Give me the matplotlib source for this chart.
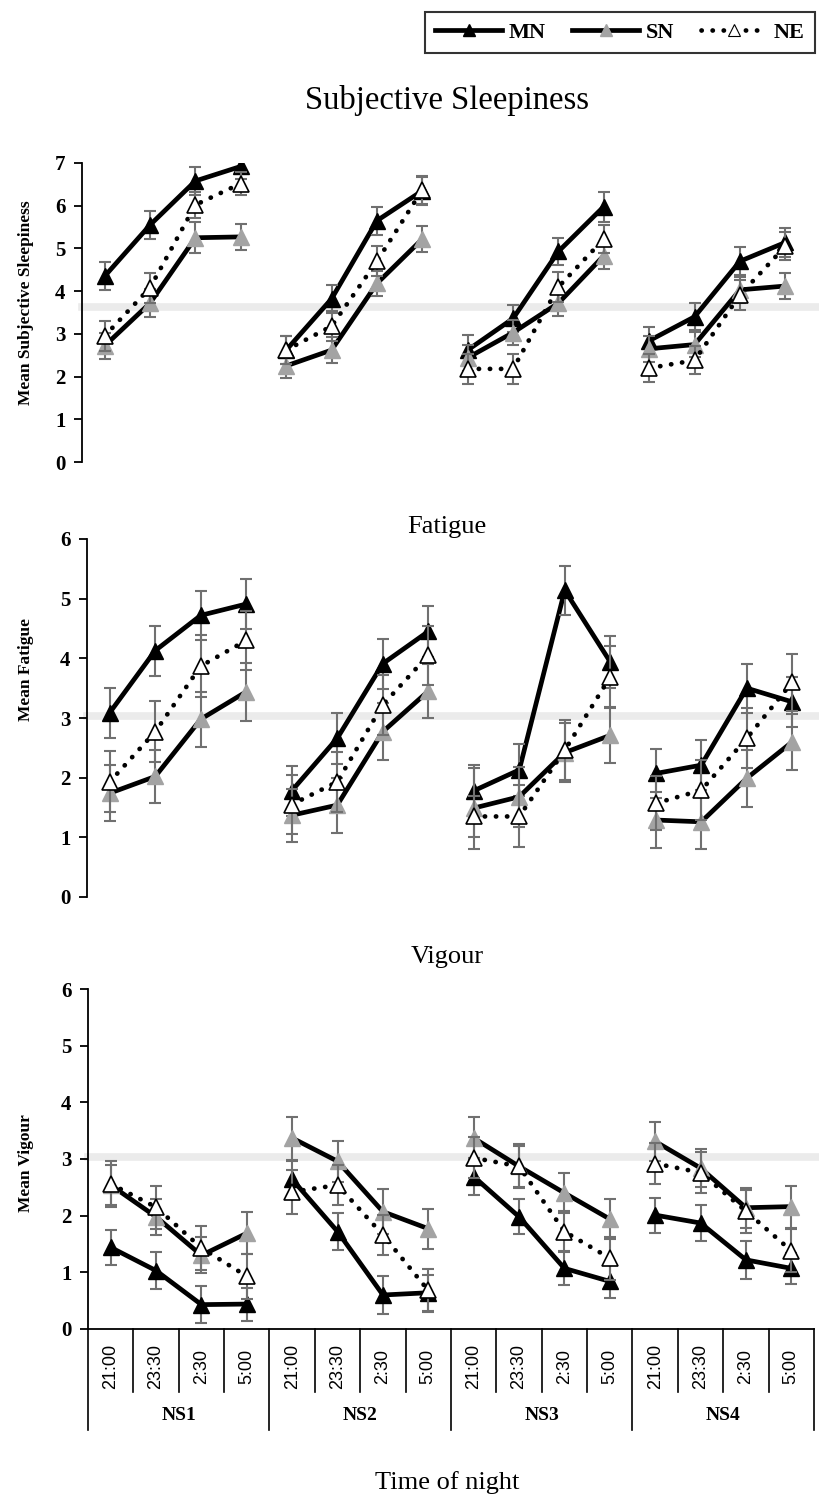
import numpy as np
import matplotlib
matplotlib.use('Agg')
import matplotlib.pyplot as plt
from matplotlib.lines import Line2D

plt.rcParams['font.family'] = ['Liberation Serif', 'DejaVu Serif']

# categories
times = ['21:00', '23:30', '2:30', '5:00']
nights = ['NS1', 'NS2', 'NS3', 'NS4']

# subjective sleepiness
sleep_mn = [4.35, 5.55, 6.58, 6.92, 2.62, 3.82, 5.65, 6.35, 2.62, 3.36, 4.93, 5.98, 2.84, 3.40, 4.70, 5.14]
sleep_mn_err = [0.33, 0.33, 0.32, 0.30, 0.33, 0.32, 0.33, 0.33, 0.35, 0.32, 0.32, 0.35, 0.33, 0.32, 0.33, 0.33]
sleep_sn = [2.72, 3.72, 5.25, 5.27, 2.25, 2.62, 4.18, 5.22, 2.44, 3.03, 3.72, 4.83, 2.65, 2.75, 4.03, 4.12]
sleep_sn_err = [0.30, 0.33, 0.36, 0.30, 0.28, 0.30, 0.30, 0.30, 0.30, 0.30, 0.30, 0.30, 0.30, 0.30, 0.30, 0.30]
sleep_ne = [2.95, 4.08, 6.02, 6.52, 2.62, 3.18, 4.70, 6.37, 2.18, 2.18, 4.10, 5.22, 2.20, 2.38, 3.91, 5.05]
sleep_ne_err = [0.35, 0.35, 0.30, 0.28, 0.33, 0.35, 0.35, 0.33, 0.35, 0.35, 0.35, 0.32, 0.33, 0.33, 0.35, 0.33]

# fatigue
fat_mn = [3.09, 4.13, 4.72, 4.91, 1.78, 2.66, 3.91, 4.45, 1.78, 2.13, 5.14, 3.94, 2.07, 2.21, 3.50, 3.27]
fat_mn_err = [0.42, 0.42, 0.41, 0.42, 0.42, 0.43, 0.42, 0.42, 0.44, 0.43, 0.41, 0.44, 0.41, 0.42, 0.41, 0.42]
fat_sn = [1.74, 2.02, 2.98, 3.44, 1.37, 1.54, 2.77, 3.45, 1.49, 1.68, 2.42, 2.71, 1.29, 1.26, 1.99, 2.60]
fat_sn_err = [0.47, 0.45, 0.46, 0.49, 0.44, 0.46, 0.48, 0.45, 0.68, 0.50, 0.50, 0.47, 0.47, 0.46, 0.48, 0.47]
fat_ne = [1.93, 2.77, 3.87, 4.30, 1.55, 1.93, 3.22, 4.05, 1.35, 1.35, 2.46, 3.69, 1.57, 1.79, 2.66, 3.60]
fat_ne_err = [0.51, 0.51, 0.52, 0.50, 0.50, 0.50, 0.50, 0.50, 0.35, 0.52, 0.50, 0.52, 0.45, 0.50, 0.50, 0.48]

# vigour
vig_mn = [1.44, 1.03, 0.43, 0.44, 2.64, 1.72, 0.60, 0.64, 2.69, 1.98, 1.07, 0.84, 2.01, 1.87, 1.22, 1.07]
vig_mn_err = [0.31, 0.33, 0.33, 0.29, 0.32, 0.32, 0.33, 0.32, 0.32, 0.31, 0.30, 0.30, 0.31, 0.31, 0.33, 0.28]
vig_sn = [2.54, 1.98, 1.30, 1.69, 3.37, 2.96, 2.07, 1.77, 3.37, 2.87, 2.40, 1.94, 3.31, 2.84, 2.14, 2.16]
vig_sn_err = [0.36, 0.32, 0.32, 0.37, 0.38, 0.36, 0.40, 0.35, 0.38, 0.39, 0.36, 0.36, 0.34, 0.34, 0.35, 0.37]
vig_ne = [2.56, 2.15, 1.43, 0.93, 2.42, 2.54, 1.66, 0.68, 3.02, 2.87, 1.72, 1.25, 2.92, 2.76, 2.08, 1.38]
vig_ne_err = [0.40, 0.38, 0.39, 0.40, 0.39, 0.36, 0.36, 0.38, 0.36, 0.36, 0.36, 0.38, 0.36, 0.36, 0.38, 0.38]

# grey reference band per panel
baselines = [3.63, 3.03, 3.03]

titles = ['Subjective Sleepiness', 'Fatigue', 'Vigour']
ylabels = ['Mean Subjective Sleepiness', 'Mean Fatigue', 'Mean Vigour']

W, H = 820, 1499
fig = plt.figure(figsize=(W / 100, H / 100), dpi=100)


def box(x0, y_top, y_bot, width):
    # pixel box -> figure fraction
    return [x0 / W, 1 - y_bot / H, width / W, (y_bot - y_top) / H]


ax1 = fig.add_axes(box(82, 163, 462, 726))
ax2 = fig.add_axes(box(87, 539, 897, 728))
ax3 = fig.add_axes(box(88, 989, 1329, 726))
axes = [ax1, ax2, ax3]

panels = [
    (sleep_mn, sleep_mn_err, sleep_sn, sleep_sn_err, sleep_ne, sleep_ne_err),
    (fat_mn, fat_mn_err, fat_sn, fat_sn_err, fat_ne, fat_ne_err),
    (vig_mn, vig_mn_err, vig_sn, vig_sn_err, vig_ne, vig_ne_err),
]
ylims = [7, 6, 6]

styles = {
    'MN': dict(color='black', ls='-', mfc='black', mec='black', mew=1),
    'SN': dict(color='black', ls='-', mfc='#a3a3a3', mec='#a3a3a3', mew=1),
    'NE': dict(color='black', ls=(0, (0.05, 2.3)), mfc='white', mec='black', mew=1.2),
}

for k, ax in enumerate(axes):
    mn, mn_e, sn, sn_e, ne, ne_e = panels[k]
    ax.axhline(baselines[k], xmin=0, xmax=1.02, color='#ebebeb', lw=5.5, zorder=0, clip_on=False)
    z = 2
    for name, vals, errs in [('MN', mn, mn_e), ('SN', sn, sn_e), ('NE', ne, ne_e)]:
        st = styles[name]
        for g in range(len(nights)):
            xs = np.arange(4) + 4 * g
            ys = np.array(vals[4 * g:4 * g + 4])
            es = np.array(errs[4 * g:4 * g + 4])
            ax.plot(xs, ys, color=st['color'], ls=st['ls'], lw=3.4,
                    dash_capstyle='round', solid_capstyle='butt', zorder=z)
            ax.errorbar(xs, ys, yerr=es, fmt='none', ecolor='#707070', elinewidth=1.5,
                        capsize=4.5, capthick=1.5, zorder=z + 0.5)
            ax.plot(xs, ys, ls='none', marker='^', ms=12, mfc=st['mfc'], mec=st['mec'],
                    mew=st['mew'], zorder=z + 1)
        z += 2
    ax.set_xlim(-0.5, 15.5)
    ax.set_ylim(0, ylims[k])
    ax.set_yticks(range(ylims[k] + 1))
    for s in ['top', 'right', 'bottom']:
        ax.spines[s].set_visible(False)
    ax.spines['left'].set_linewidth(1.3)
    ax.set_xticks([])
    ax.tick_params(axis='y', direction='out', length=6, width=1.3, pad=6, labelsize=15)
    for t in ax.get_yticklabels():
        t.set_fontweight('bold')
    ax.patch.set_alpha(0)

# bottom category axis
ax3.spines['bottom'].set_visible(True)
ax3.spines['bottom'].set_linewidth(1.3)
trans = ax3.get_xaxis_transform()
for i in range(17):
    bottom = -0.297 if i % 4 == 0 else -0.185
    ax3.plot([i - 0.5, i - 0.5], [0, bottom], color='black', lw=1.2, transform=trans, clip_on=False)
for i in range(16):
    ax3.text(i, -0.109, times[i % 4], rotation=90, ha='center', va='center', transform=trans,
             fontsize=13, fontweight='medium', family=['Liberation Sans', 'DejaVu Sans'])
for g, name in enumerate(nights):
    ax3.text(4 * g + 1.5, -0.253, name, ha='center', va='center', transform=trans,
             fontsize=14, fontweight='bold')

# titles and y labels
title_y = [100, 527, 957]
title_fs = [23.5, 19, 19]
for k in range(3):
    fig.text(447 / W, 1 - title_y[k] / H, titles[k], ha='center', va='center', fontsize=title_fs[k])
label_y = [303, 670, 1163]
for k in range(3):
    fig.text(26 / W, 1 - label_y[k] / H, ylabels[k], rotation=90, ha='center', va='center',
             fontsize=12.5, fontweight='bold')

fig.text(447 / W, 1 - 1483 / H, 'Time of night', ha='center', va='center', fontsize=19)

# legend
handles = [
    Line2D([], [], color='black', lw=3.4, marker='^', ms=8, mfc='black', mec='black'),
    Line2D([], [], color='black', lw=3.4, marker='^', ms=8, mfc='#a3a3a3', mec='#a3a3a3'),
    Line2D([], [], color='black', lw=3.4, ls=(0, (0.05, 2.3)), dash_capstyle='round',
           marker='^', ms=8, mfc='white', mec='black', mew=0.8),
]
leg = fig.legend(handles, ['MN', 'SN', 'NE'], loc='upper right', bbox_to_anchor=(815 / W, 1 - 12 / H),
                 ncol=3, frameon=True, fancybox=False, edgecolor='black', handlelength=3.0,
                 handletextpad=0.3, columnspacing=1.2, borderpad=0.45, borderaxespad=0,
                 prop=dict(family='Liberation Serif', weight='bold', size=16))
leg.get_frame().set_linewidth(1.5)

fig.savefig('out.png', dpi=100)
